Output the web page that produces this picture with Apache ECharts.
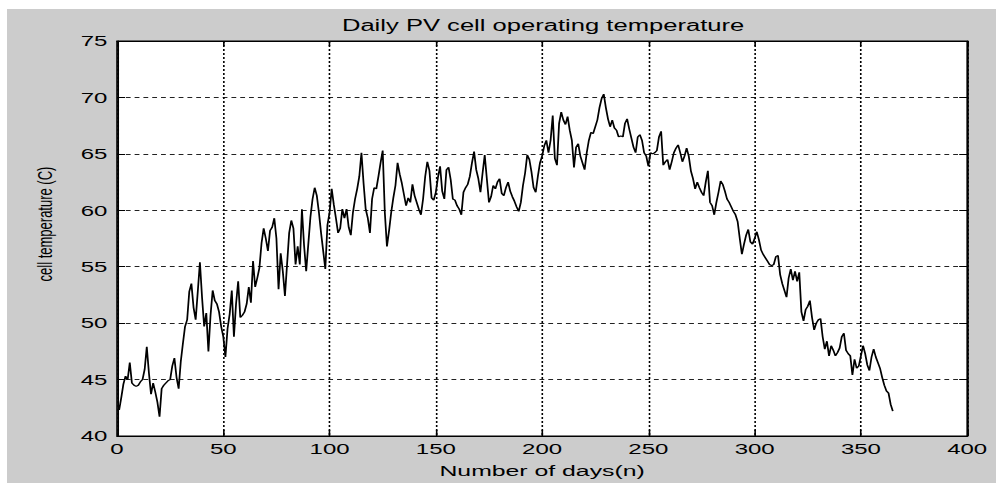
<!DOCTYPE html>
<html>
<head>
<meta charset="utf-8">
<script src="https://cdn.jsdelivr.net/npm/echarts@6/dist/echarts.min.js"></script>
<style>
  html, body { margin: 0; padding: 0; background: #fff; overflow: hidden; width: 996px; height: 483px; }
  /* the source figure is stretched sideways, so the chart is drawn narrow and widened */
  #chart { position: absolute; left: 7px; top: 9px; width: 618px; height: 474px; transform: scaleX(1.6003); transform-origin: 0 0; }
</style>
</head>
<body>
<div id="chart"></div>
<script>
// daily cell temperature (C), day 1 .. 365
const cellTemp = [
  42.3, 43.4, 44.6, 45.3, 45.0, 46.5, 44.7, 44.5, 44.4, 44.5,
  44.8, 45.0, 45.9, 47.9, 45.6, 43.7, 44.7, 43.9, 43.0, 41.7,
  44.2, 44.5, 44.7, 44.9, 45.0, 46.2, 46.9, 45.2, 44.2, 46.6,
  48.2, 49.7, 50.3, 52.8, 53.5, 51.4, 50.3, 52.8, 55.4, 52.3,
  49.7, 50.9, 47.5, 50.7, 52.9, 52.0, 51.7, 51.0, 49.7, 48.8,
  47.0, 49.5, 50.8, 52.9, 48.8, 51.7, 53.7, 50.5, 50.7, 51.0,
  51.7, 53.2, 51.8, 55.5, 53.2, 54.0, 54.9, 57.1, 58.4, 57.5,
  56.4, 58.2, 58.5, 59.3, 57.5, 53.0, 56.2, 54.6, 52.4, 55.2,
  58.0, 59.1, 58.4, 55.2, 56.8, 55.2, 60.1, 56.9, 54.6, 57.0,
  59.4, 61.0, 62.0, 61.3, 59.8, 58.0, 56.4, 54.8, 58.7, 59.8,
  61.9, 60.5, 59.3, 58.0, 58.4, 60.1, 59.3, 60.1, 58.5, 57.8,
  59.8, 61.0, 61.9, 63.0, 65.1, 62.4, 60.1, 59.3, 58.0, 61.0,
  62.0, 61.9, 63.0, 64.2, 65.3, 59.8, 56.8, 58.2, 59.8, 61.1,
  62.2, 64.2, 63.2, 62.4, 61.4, 60.4, 61.1, 60.7, 62.3, 61.3,
  60.7, 60.1, 59.6, 61.0, 63.0, 64.3, 63.5, 61.1, 60.9, 61.6,
  62.9, 63.9, 61.7, 61.0, 63.6, 63.8, 62.7, 61.0, 60.9, 60.4,
  60.1, 59.6, 61.6, 62.0, 62.3, 63.0, 64.2, 65.2, 63.6, 62.8,
  61.6, 63.3, 64.9, 62.8, 60.7, 61.2, 62.2, 61.9, 62.5, 62.8,
  61.5, 61.3, 62.0, 62.5, 61.7, 61.2, 60.8, 60.3, 59.9, 60.7,
  62.2, 63.3, 64.9, 64.5, 63.4, 62.0, 61.6, 63.0, 64.2, 64.8,
  65.7, 66.2, 65.1, 66.2, 68.4, 64.6, 64.0, 67.7, 68.7, 68.0,
  67.6, 68.3, 67.1, 66.2, 63.8, 65.6, 65.9, 64.8, 64.2, 63.6,
  65.1, 66.2, 66.9, 66.8, 67.4, 68.0, 69.1, 69.9, 70.3, 69.1,
  68.1, 67.4, 68.0, 67.3, 67.1, 66.5, 66.6, 66.5, 67.7, 68.1,
  67.2, 66.4, 65.6, 65.1, 66.5, 66.7, 66.2, 65.1, 64.8, 63.9,
  65.1, 65.0, 65.1, 65.3, 66.5, 67.0, 64.0, 64.3, 64.5, 63.6,
  64.3, 65.1, 65.5, 65.8, 65.1, 64.3, 64.8, 65.5, 64.8, 63.5,
  62.8, 61.9, 62.5, 62.0, 61.6, 61.3, 62.5, 63.5, 60.7, 60.4,
  59.6, 60.7, 61.6, 62.6, 62.3, 61.7, 61.0, 60.7, 60.3, 59.9,
  59.6, 59.0, 57.5, 56.1, 57.0, 57.8, 58.3, 57.2, 57.0, 57.5,
  58.1, 57.4, 56.5, 56.1, 55.8, 55.5, 55.2, 55.1, 55.2, 55.9,
  56.0, 54.3, 53.5, 52.9, 52.3, 54.0, 54.8, 53.8, 54.6, 53.7,
  54.5, 51.0, 50.2, 51.2, 51.5, 52.0, 50.5, 49.4, 50.0, 50.3,
  50.4, 48.8, 47.7, 48.4, 47.1, 48.0, 47.6, 47.1, 47.4, 47.8,
  48.8, 49.1, 47.6, 47.3, 47.1, 45.4, 46.8, 46.0, 46.2, 47.1,
  48.0, 47.3, 46.3, 45.8, 47.0, 47.7, 47.0, 46.5, 46.0, 45.2,
  44.5, 44.0, 43.8, 42.8, 42.2
]

const titleText = 'Daily PV cell operating temperature'
const xName = 'Number of days(n)'
const yName = 'cell temperature (C)'
const xRange = { min: 0, max: 400, interval: 50 }
const yRange = { min: 40, max: 75, interval: 5 }

const font = "'Liberation Sans', Arial, sans-serif"
const points = cellTemp.map((t, i) => [i + 1, t])

const chart = echarts.init(document.getElementById('chart'), null, { renderer: 'svg' })

// plain box axes for the top and right edges, MATLAB style
const boxAxis = (pos, range) => ({
  type: 'value',
  position: pos,
  min: range.min,
  max: range.max,
  interval: range.interval,
  axisLine: { show: true, onZero: false, lineStyle: { color: '#000', width: 1 } },
  axisTick: { show: true, inside: true, length: 5, lineStyle: { color: '#000' } },
  axisLabel: { show: false },
  splitLine: { show: false }
})

const option = {
  backgroundColor: '#cccccc',
  animation: false,
  title: {
    text: titleText,
    left: 335,
    top: 9,
    padding: 0,
    textAlign: 'center',
    textStyle: { fontFamily: font, fontSize: 16, fontWeight: 'normal', color: '#000' }
  },
  grid: {
    left: 68.75,
    right: 18,
    top: 32,
    bottom: 42,
    show: true,
    backgroundColor: '#fff',
    borderColor: '#000',
    borderWidth: 1
  },
  xAxis: [
    {
      type: 'value',
      position: 'bottom',
      min: xRange.min,
      max: xRange.max,
      interval: xRange.interval,
      name: xName,
      nameLocation: 'middle',
      nameGap: 26,
      nameTextStyle: { fontFamily: font, fontSize: 15.5, color: '#000' },
      axisLine: { show: true, onZero: false, lineStyle: { color: '#000', width: 1 } },
      axisTick: { show: true, inside: true, length: 6, lineStyle: { color: '#000' } },
      axisLabel: { margin: 5, color: '#000', fontFamily: font, fontSize: 15 },
      splitLine: { show: true, lineStyle: { color: '#000', width: 1, type: [2, 2] } }
    },
    boxAxis('top', xRange)
  ],
  yAxis: [
    {
      type: 'value',
      position: 'left',
      min: yRange.min,
      max: yRange.max,
      interval: yRange.interval,
      axisLine: { show: true, onZero: false, lineStyle: { color: '#000', width: 1 } },
      axisTick: { show: true, inside: true, length: 5, lineStyle: { color: '#000' } },
      axisLabel: { margin: 6, color: '#000', fontFamily: font, fontSize: 15 },
      splitLine: { show: true, lineStyle: { color: '#222', width: 1, type: [3, 2.5] } }
    },
    boxAxis('right', yRange)
  ],
  graphic: [
    {
      type: 'text',
      x: 23.75,
      y: 215,
      rotation: Math.PI / 2,
      style: {
        text: yName,
        fontFamily: font,
        fontSize: 13,
        fill: '#000',
        align: 'center',
        verticalAlign: 'middle'
      }
    }
  ],
  series: [
    {
      type: 'line',
      data: points,
      xAxisIndex: 0,
      yAxisIndex: 0,
      symbol: 'none',
      showSymbol: false,
      lineStyle: { color: '#000', width: 1.1 },
      z: 5
    }
  ]
}

chart.setOption(option)
</script>
</body>
</html>
